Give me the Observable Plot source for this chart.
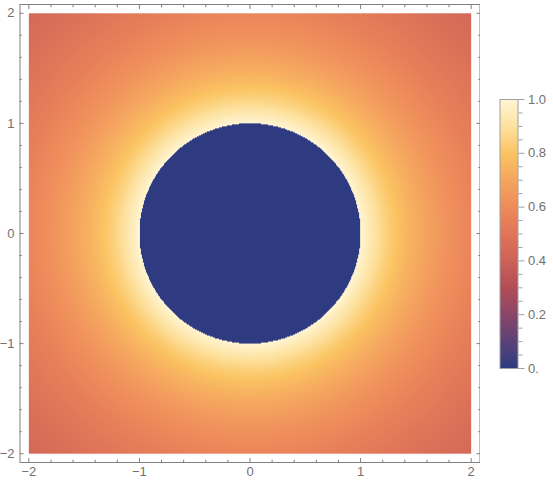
<!DOCTYPE html>
<html>
<head>
<meta charset="utf-8">
<script src="https://cdn.jsdelivr.net/npm/d3@7"></script>
<script src="https://cdn.jsdelivr.net/npm/@observablehq/plot@0.6"></script>
<style>
  html, body { margin: 0; padding: 0; background: #fff; }
  #wrap { position: relative; width: 553px; height: 483px; overflow: hidden; }
  #main, #bar { position: absolute; top: 0; }
  #main { left: 0; }
  #bar { left: 480px; }
</style>
</head>
<body>
<div id="wrap"><div id="main"></div><div id="bar"></div></div>
<script>
// ---- data ----
const xRange = [-2, 2];
const yRange = [-2, 2];
const innerRadius = 1;          // inside: value 0
const falloffPower = 0.8;       // outside: 1 / r^p
const majorTicks = [-2, -1, 0, 1, 2];
const majorTickLabels = ["\u22122", "\u22121", "0", "1", "2"];
const minorTicks = [-1.8, -1.6, -1.4, -1.2, -0.8, -0.6, -0.4, -0.2, 0.2, 0.4, 0.6, 0.8, 1.2, 1.4, 1.6, 1.8];
const colorStops = [0, 0.1, 0.2, 0.3, 0.4, 0.5, 0.6, 0.7, 0.8, 0.9, 1.0];
const colorValues = ["#2e3b80", "#5a4378", "#8a4668", "#b24d57", "#cd6258", "#e07558", "#ee8b5b", "#f5a65f", "#fbc462", "#fde2a0", "#fff6d5"];
const barTicks = [0, 0.2, 0.4, 0.6, 0.8, 1.0];
const barTickLabels = ["0.", "0.2", "0.4", "0.6", "0.8", "1.0"];
const barMinorTicks = [0.05, 0.1, 0.15, 0.25, 0.3, 0.35, 0.45, 0.5, 0.55, 0.65, 0.7, 0.75, 0.85, 0.9, 0.95];

// ---- styles ----
const axisColor = "#808080";
const textColor = "#707070";
const font = "'Liberation Sans', Arial, sans-serif";

function field(x, y) {
  const r = Math.hypot(x, y);
  return r < innerRadius ? 0 : 1 / Math.pow(r, falloffPower);
}

const colorScale = { type: "linear", domain: colorStops, range: colorValues, clamp: true };

const pad = 0.08;
const main = Plot.plot({
  width: 480, height: 483,
  marginLeft: 19.5, marginRight: 0.5, marginTop: 4, marginBottom: 21,
  style: { fontFamily: font, fontSize: "13px", color: textColor, background: "transparent" },
  x: { domain: [xRange[0] - pad, xRange[1] + pad], label: null },
  y: { domain: [yRange[0] - pad, yRange[1] + pad], label: null },
  color: colorScale,
  marks: [
    Plot.raster({ fill: field, x1: xRange[0], x2: xRange[1], y1: yRange[0], y2: yRange[1], interpolate: "none" }),
    Plot.frame({ stroke: axisColor }),
    Plot.axisX({ anchor: "bottom", ticks: majorTicks, tickFormat: (d, i) => majorTickLabels[i], tickSize: -4, tickPadding: 8, stroke: axisColor, fill: textColor }),
    Plot.axisX({ anchor: "bottom", ticks: minorTicks, tickFormat: () => "", tickSize: -2.3, stroke: axisColor }),
    Plot.axisX({ anchor: "top", ticks: majorTicks, tickFormat: () => "", tickSize: -4, stroke: axisColor }),
    Plot.axisX({ anchor: "top", ticks: minorTicks, tickFormat: () => "", tickSize: -2.3, stroke: axisColor }),
    Plot.axisY({ anchor: "left", ticks: majorTicks, tickFormat: (d, i) => majorTickLabels[i], tickSize: -4, tickPadding: 9.5, stroke: axisColor, fill: textColor }),
    Plot.axisY({ anchor: "left", ticks: minorTicks, tickFormat: () => "", tickSize: -2.3, stroke: axisColor }),
    Plot.axisY({ anchor: "right", ticks: majorTicks, tickFormat: () => "", tickSize: -4, stroke: axisColor }),
    Plot.axisY({ anchor: "right", ticks: minorTicks, tickFormat: () => "", tickSize: -2.3, stroke: axisColor })
  ]
});
document.getElementById("main").appendChild(main);

const bar = Plot.plot({
  width: 73, height: 483,
  marginLeft: 19.5, marginRight: 35.5, marginTop: 99, marginBottom: 115,
  style: { fontFamily: font, fontSize: "13px", color: textColor, background: "transparent" },
  x: { domain: [0, 1], axis: null },
  y: { domain: [0, 1], label: null },
  color: colorScale,
  marks: [
    Plot.raster({ fill: (x, y) => y, x1: 0, x2: 1, y1: 0, y2: 1, interpolate: "none" }),
    Plot.frame({ stroke: "#a0a0a0" }),
    Plot.axisY({ anchor: "right", ticks: barTicks, tickFormat: (d, i) => barTickLabels[i], tickSize: 6, tickPadding: 4, stroke: "#a0a0a0", fill: textColor }),
    Plot.axisY({ anchor: "right", ticks: barMinorTicks, tickFormat: () => "", tickSize: 4, stroke: "#a0a0a0" })
  ]
});
document.getElementById("bar").appendChild(bar);
</script>
</body>
</html>
